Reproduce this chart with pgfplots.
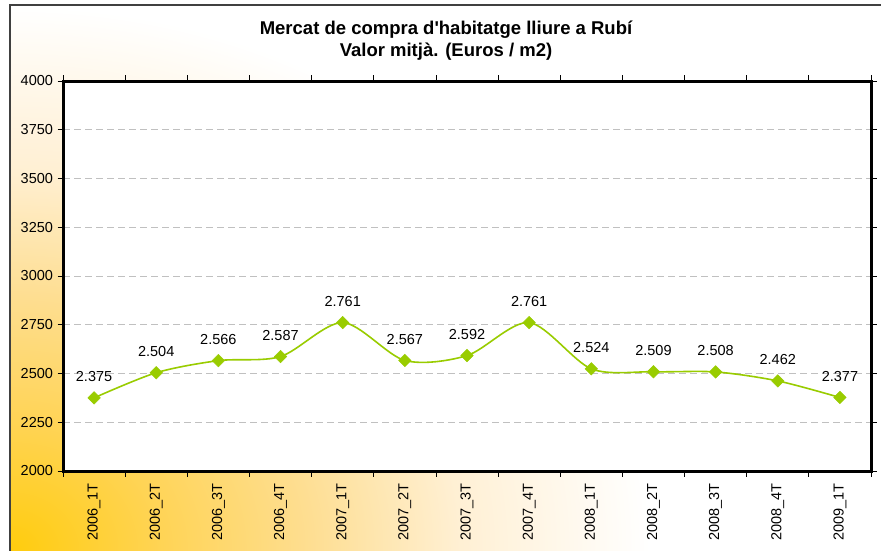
\documentclass[border=0pt]{standalone}
\usepackage{pgfplots}
\pgfplotsset{compat=1.18}
\usepackage{fontspec}
\setmainfont{Liberation Sans}[Ligatures=TeXOff]
\definecolor{linegreen}{HTML}{99CC00}
\definecolor{gridgray}{HTML}{C0C0C0}
\pgfdeclareradialshading{bgshade}{\pgfpointorigin}{rgb(0bp)=(1,0.80,0.05); rgb(3.75bp)=(1,0.83,0.33); rgb(7.5bp)=(0.995,0.87,0.57); rgb(11.25bp)=(1,0.94,0.83); rgb(16bp)=(1,1,1); rgb(50bp)=(1,1,1)}
\begin{document}
\begin{tikzpicture}[x=1pt,y=1pt]
\path[use as bounding box] (0,0) rectangle (881,550);
\fill[white] (0,0) rectangle (881,550);
\begin{scope}
\clip (10,0) rectangle (881,545);
\shade[shading=bgshade] (-990,-850) rectangle (1010,850);
\end{scope}
\draw[line width=2pt, color=black!75] (10,-10) -- (10,545) -- (900,545);
\node[font=\bfseries\fontsize{18.5}{22}\selectfont, align=center] at (446,509) {Mercat de compra d'habitatge lliure a Rubí\\Valor mitjà. (Euros / m2)};
\begin{axis}[
  at={(63pt,79pt)}, anchor=south west,
  width=808pt, height=390pt, scale only axis,
  xmin=-0.5, xmax=12.5, ymin=2000, ymax=4000,
  axis background/.style={fill=white},
  axis line style={line width=3pt},
  /pgf/number format/assume math mode=true,
  /pgf/number format/1000 sep={},
  ytick={2000,2250,...,4000},
  xtick={-0.5,0.5,...,12.5},
  xticklabel={\relax},
  extra x ticks={0,1,2,3,4,5,6,7,8,9,10,11,12},
  extra x tick labels={2006\_1T,2006\_2T,2006\_3T,2006\_4T,2007\_1T,2007\_2T,2007\_3T,2007\_4T,2008\_1T,2008\_2T,2008\_3T,2008\_4T,2009\_1T},
  extra x tick style={major tick length=0pt, grid=none,
     xticklabel style={rotate=90, anchor=east, xshift=-9pt}},
  tick align=outside,
  major tick length=5.5pt,
  tick style={black, line width=0.8pt},
  ymajorgrids,
  major grid style={gridgray, line width=0.8pt, dash pattern=on 7pt off 4pt},
  xticklabel style={font=\fontsize{14.5}{17}\selectfont},
  yticklabel style={font=\fontsize{14.5}{17}\selectfont, xshift=-1pt},
  clip=false,
]
\addplot[color=linegreen, line width=1.6pt, smooth, tension=0.5,
  mark=square*, mark size=4.4pt, mark options={fill=linegreen, draw=linegreen, line width=0.5pt, rotate=45},
  point meta=y,
  nodes near coords={\pgfmathprintnumber[fixed,precision=0,1000 sep={.}]{\pgfplotspointmeta}},
  every node near coord/.append style={anchor=center, yshift=21pt, rotate=0, font=\fontsize{14.5}{17}\selectfont, text=black}]
coordinates {
(0,2375) (1,2504) (2,2566) (3,2587) (4,2761) (5,2567) (6,2592)
(7,2761) (8,2524) (9,2509) (10,2508) (11,2462) (12,2377)
};
\end{axis}
\end{tikzpicture}
\end{document}
